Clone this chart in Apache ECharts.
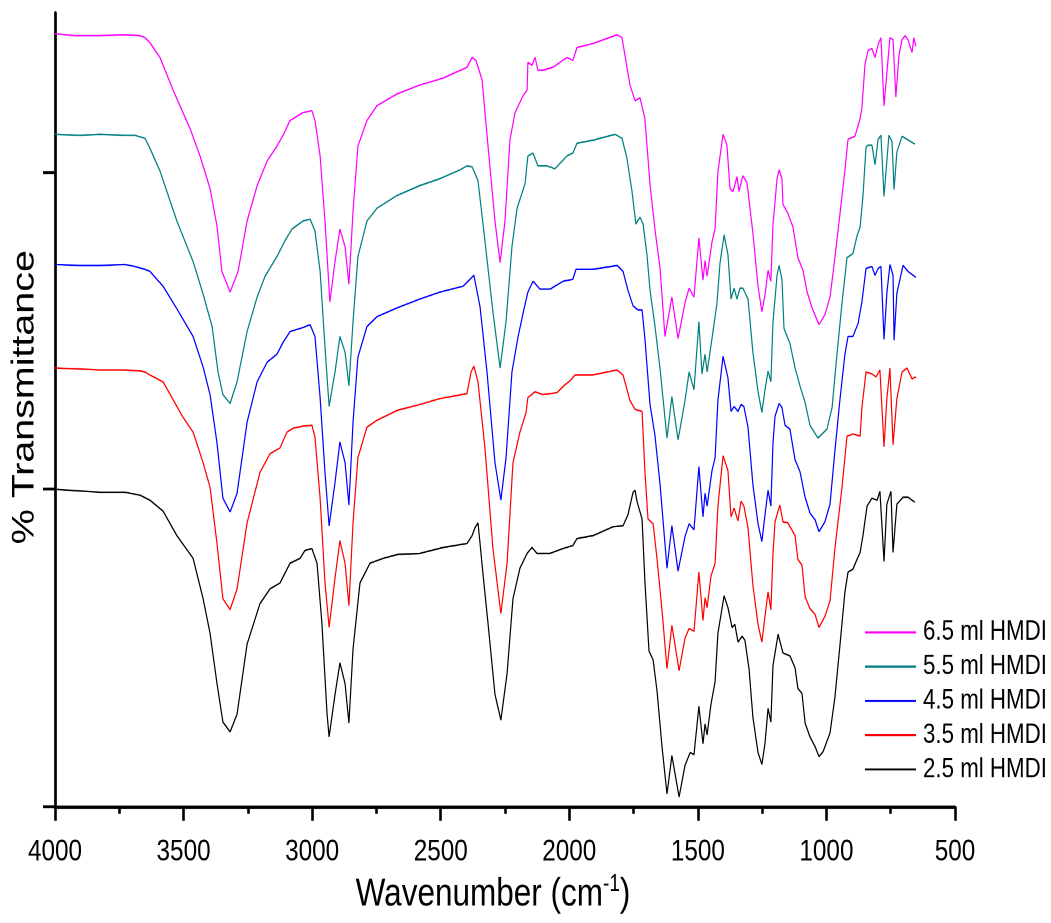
<!DOCTYPE html>
<html>
<head>
<meta charset="utf-8">
<script src="https://cdn.jsdelivr.net/npm/echarts@6/dist/echarts.min.js"></script>
<style>
html{margin:0;padding:0;background:#fff;overflow:hidden;}
body{margin:0;padding:0;background:#fff;width:1051px;height:923px;}
#wrap{width:1051px;height:738px;transform:scaleY(1.25068);transform-origin:0 0;}
#chart{width:1051px;height:738px;}
</style>
</head>
<body>
<div id="wrap"><div id="chart"></div></div>
<script>
// Series names, colours (top to bottom in legend)
const seriesNames = ['6.5 ml HMDI', '5.5 ml HMDI', '4.5 ml HMDI', '3.5 ml HMDI', '2.5 ml HMDI'];
const seriesColors = ['#FF00FF', '#008080', '#0000FF', '#FF0000', '#000000'];
const xTicks = [500, 1000, 1500, 2000, 2500, 3000, 3500, 4000];
const yTicks = [0, 322, 644];

// [wavenumber (cm-1), transmittance (arbitrary, offset)]
const s65 = [[4000,784],[3922,782],[3825,782],[3728,783],[3669,782],[3650,780],[3631,775],[3592,760],[3541,727],[3475,688],[3436,660],[3397,627],[3370,589],[3351,543],[3319,522],[3288,543],[3253,594],[3214,630],[3175,655],[3137,670],[3113,681],[3086,696],[3036,704],[3001,706],[2989,696],[2969,660],[2950,594],[2931,512],[2911,553],[2892,586],[2872,568],[2857,530],[2841,604],[2822,670],[2787,696],[2748,711],[2670,723],[2581,732],[2491,739],[2398,750],[2378,760],[2363,757],[2339,737],[2316,670],[2289,594],[2269,552],[2250,594],[2231,676],[2211,704],[2180,721],[2164,727],[2161,755],[2145,752],[2133,760],[2122,747],[2102,747],[2063,750],[2009,760],[1986,757],[1970,770],[1908,774],[1814,783],[1795,780],[1764,732],[1744,716],[1725,719],[1713,706],[1706,698],[1686,631],[1667,586],[1647,546],[1628,477],[1601,517],[1577,475],[1550,511],[1534,526],[1515,517],[1496,577],[1480,534],[1472,554],[1464,538],[1445,573],[1433,586],[1422,644],[1402,682],[1387,671],[1375,627],[1363,624],[1348,639],[1340,624],[1325,640],[1309,633],[1286,582],[1266,528],[1251,502],[1239,519],[1227,544],[1216,533],[1208,590],[1192,637],[1184,646],[1173,637],[1169,611],[1150,602],[1130,588],[1111,557],[1091,544],[1076,523],[1056,506],[1029,489],[1006,499],[986,517],[967,557],[947,602],[928,646],[916,677],[889,680],[869,698],[862,709],[850,753],[838,767],[823,769],[811,760],[799,773],[788,780],[776,711],[765,744],[753,780],[741,778],[730,720],[718,762],[706,778],[694,782],[683,778],[667,765],[660,780],[652,771]];

const s55 = [[4000,682],[3903,681],[3825,682],[3728,681],[3689,681],[3650,678],[3631,668],[3592,645],[3526,594],[3463,553],[3424,520],[3389,487],[3366,441],[3347,418],[3319,409],[3292,431],[3253,482],[3214,517],[3183,538],[3137,558],[3106,574],[3078,586],[3036,594],[3008,596],[2989,584],[2969,543],[2950,466],[2934,406],[2911,441],[2892,477],[2872,461],[2857,427],[2841,492],[2822,558],[2787,594],[2748,607],[2670,620],[2581,630],[2503,637],[2425,646],[2398,650],[2378,649],[2355,635],[2328,574],[2297,502],[2269,445],[2246,492],[2223,568],[2203,607],[2172,632],[2161,660],[2141,663],[2122,650],[2087,650],[2056,647],[2009,660],[1986,663],[1970,673],[1908,676],[1822,682],[1795,678],[1776,658],[1756,624],[1741,591],[1725,598],[1713,591],[1698,560],[1686,524],[1667,488],[1647,444],[1620,374],[1601,416],[1577,372],[1550,412],[1534,441],[1515,423],[1496,492],[1484,439],[1472,459],[1464,441],[1445,475],[1426,510],[1414,551],[1398,580],[1383,560],[1371,515],[1359,526],[1348,515],[1336,526],[1325,526],[1305,515],[1286,461],[1266,421],[1251,400],[1239,423],[1227,442],[1216,431],[1208,491],[1192,539],[1184,549],[1173,535],[1165,485],[1142,470],[1122,445],[1103,427],[1083,410],[1064,387],[1033,374],[998,383],[978,405],[959,459],[939,512],[920,557],[897,561],[881,579],[869,588],[858,619],[846,669],[838,671],[823,671],[811,651],[799,677],[788,681],[776,619],[765,655],[757,681],[745,675],[737,626],[726,664],[706,680],[687,677],[656,672]];

const s45 = [[4000,550],[3903,549],[3825,549],[3728,550],[3689,548],[3650,545],[3631,543],[3580,528],[3526,505],[3463,477],[3424,446],[3397,418],[3370,369],[3347,313],[3319,299],[3292,318],[3253,390],[3214,431],[3175,451],[3137,459],[3113,471],[3086,482],[3036,486],[3008,489],[2989,477],[2969,415],[2950,339],[2934,285],[2911,329],[2892,370],[2872,349],[2857,306],[2841,390],[2822,456],[2787,487],[2748,497],[2670,506],[2581,515],[2503,522],[2413,528],[2386,535],[2371,539],[2347,507],[2320,441],[2289,349],[2266,311],[2246,354],[2223,441],[2199,477],[2176,505],[2161,522],[2141,533],[2114,525],[2075,525],[2024,533],[1986,535],[1974,545],[1908,545],[1814,549],[1791,543],[1772,524],[1752,508],[1733,504],[1717,504],[1706,475],[1686,408],[1667,377],[1647,327],[1620,242],[1601,285],[1577,239],[1550,274],[1534,287],[1515,281],[1496,345],[1480,294],[1472,318],[1464,305],[1445,341],[1433,354],[1422,412],[1402,457],[1383,435],[1371,401],[1359,406],[1344,401],[1332,408],[1321,406],[1305,385],[1286,327],[1266,287],[1251,269],[1239,296],[1227,321],[1216,305],[1208,368],[1200,396],[1184,409],[1173,405],[1161,387],[1142,383],[1122,352],[1103,340],[1083,314],[1064,298],[1044,291],[1029,279],[1006,289],[986,307],[967,361],[947,414],[928,459],[916,477],[897,477],[877,490],[862,512],[846,546],[823,548],[811,539],[799,546],[788,548],[776,474],[765,521],[753,550],[741,539],[737,473],[726,521],[702,549],[683,543],[652,537]];

const s35 = [[4000,445],[3903,444],[3825,443],[3728,443],[3669,442],[3650,441],[3631,438],[3580,431],[3502,395],[3463,380],[3424,349],[3397,324],[3370,267],[3347,211],[3319,200],[3292,221],[3253,288],[3203,339],[3164,358],[3125,364],[3098,380],[3074,384],[3036,386],[3001,387],[2989,375],[2969,313],[2950,227],[2934,182],[2911,232],[2892,270],[2872,247],[2857,204],[2841,288],[2822,354],[2787,385],[2748,392],[2670,402],[2581,408],[2503,414],[2398,419],[2382,441],[2371,447],[2355,431],[2328,364],[2297,262],[2266,196],[2242,247],[2219,349],[2192,380],[2168,400],[2161,415],[2133,421],[2102,418],[2048,420],[2017,428],[1997,432],[1978,438],[1908,438],[1814,443],[1791,438],[1764,412],[1744,403],[1717,401],[1706,341],[1694,292],[1674,287],[1659,252],[1639,198],[1620,140],[1601,184],[1573,138],[1550,171],[1534,181],[1515,178],[1496,238],[1480,189],[1472,212],[1464,202],[1449,234],[1433,247],[1422,305],[1402,356],[1383,341],[1371,294],[1359,303],[1344,290],[1332,310],[1321,305],[1305,283],[1286,225],[1266,185],[1251,167],[1239,193],[1227,218],[1216,200],[1208,256],[1200,289],[1181,306],[1169,289],[1150,288],[1122,275],[1111,251],[1095,245],[1083,213],[1064,201],[1044,195],[1029,182],[1006,193],[986,209],[967,262],[939,325],[920,376],[897,378],[869,376],[862,405],[846,441],[823,439],[807,436],[792,443],[776,365],[765,414],[753,445],[741,367],[726,414],[706,441],[687,445],[667,434],[652,436]];

const s25 = [[4000,322],[3825,319],[3728,319],[3669,316],[3631,311],[3580,300],[3526,275],[3463,252],[3424,211],[3397,176],[3370,125],[3347,86],[3319,76],[3292,94],[3253,165],[3203,206],[3164,221],[3125,227],[3086,247],[3047,252],[3028,260],[3001,262],[2981,247],[2962,186],[2942,94],[2934,71],[2911,114],[2892,146],[2872,125],[2857,85],[2841,160],[2814,227],[2775,247],[2724,252],[2666,256],[2581,257],[2491,263],[2398,267],[2378,275],[2367,283],[2355,288],[2347,267],[2336,237],[2316,186],[2289,114],[2266,88],[2242,135],[2219,211],[2192,242],[2164,257],[2145,263],[2126,257],[2075,257],[2024,262],[1986,265],[1970,272],[1908,275],[1830,284],[1791,285],[1772,296],[1752,319],[1744,321],[1737,310],[1717,292],[1706,229],[1690,158],[1674,149],[1659,118],[1639,60],[1620,13],[1601,52],[1573,10],[1550,42],[1530,55],[1515,53],[1496,102],[1480,64],[1472,84],[1464,73],[1449,104],[1433,127],[1422,176],[1398,214],[1383,202],[1367,182],[1356,185],[1344,167],[1328,173],[1317,169],[1301,140],[1286,91],[1266,55],[1251,43],[1239,64],[1227,100],[1216,86],[1208,143],[1188,175],[1181,176],[1169,156],[1142,153],[1122,141],[1111,120],[1095,115],[1083,85],[1064,71],[1044,61],[1029,51],[1013,56],[986,75],[967,111],[947,165],[928,218],[916,238],[897,241],[881,251],[869,258],[858,275],[842,305],[823,313],[803,311],[792,320],[776,249],[765,307],[749,320],[741,258],[726,307],[702,314],[683,314],[656,309]];

const seriesData = [s65, s55, s45, s35, s25];

const FONT = "'Liberation Sans', Arial, Helvetica, sans-serif";
const chart = echarts.init(document.getElementById('chart'), null, {renderer: 'canvas', devicePixelRatio: 2});

const axisColor = '#000';
const option = {
  animation: false,
  backgroundColor: '#fff',
  grid: {left: 55, right: 96, top: 10.4, bottom: 83.95, containLabel: false},
  legend: {
    orient: 'vertical',
    left: 865, top: 494.5,
    padding: 0,
    itemWidth: 51, itemHeight: 1.7,
    itemGap: 5.2,
    icon: 'rect',
    data: seriesNames,
    textStyle: {fontFamily: FONT, fontSize: 22.3, lineHeight: 22.2, color: '#000', padding: [0, 0, 0, 2]}
  },
  xAxis: {
    type: 'value',
    min: 500, max: 4000, interval: 500,
    inverse: true,
    name: '{a|Wavenumber (cm}{s|-1}{a|)}',
    nameLocation: 'middle',
    nameGap: 49,
    nameTextStyle: {
      padding: [0, 24, 0, 0],
      rich: {
        a: {fontFamily: FONT, fontSize: 31.5, color: '#000', lineHeight: 34},
        s: {fontFamily: FONT, fontSize: 19, color: '#000', lineHeight: 34, padding: [0, 0, 16, 0]}
      }
    },
    axisLine: {show: true, onZero: false, lineStyle: {color: axisColor, width: 2.8}},
    axisTick: {show: true, length: 11.2, lineStyle: {color: axisColor, width: 2.6}},
    minorTick: {show: true, splitNumber: 2, length: 5.6, lineStyle: {color: axisColor, width: 2.6}},
    splitLine: {show: false},
    axisLabel: {
      fontFamily: FONT, fontSize: 24.3, color: '#000', margin: 24,
      formatter: function (v) { return String(v); }
    }
  },
  yAxis: {
    type: 'value',
    min: 0, max: 805, interval: 322,
    axisLine: {show: true, onZero: false, lineStyle: {color: axisColor, width: 2.7}},
    axisTick: {show: true, length: 12, lineStyle: {color: axisColor, width: 2.3}, customValues: yTicks},
    axisLabel: {show: false},
    splitLine: {show: false}
  },
  graphic: [{
    type: 'text',
    x: 25, y: 317.6,
    rotation: Math.PI / 2,
    style: {
      text: '% Transmittance',
      fontFamily: FONT,
      fontSize: 31.5,
      fill: '#000',
      align: 'center',
      verticalAlign: 'middle'
    }
  }],
  series: seriesNames.map((name, i) => ({
    name: name,
    type: 'line',
    data: seriesData[i],
    showSymbol: false,
    symbol: 'none',
    smooth: false,
    color: seriesColors[i],
    lineStyle: {color: seriesColors[i], width: 1.2},
    emphasis: {disabled: true},
    z: 2 + i
  }))
};
chart.setOption(option);
</script>
</body>
</html>
